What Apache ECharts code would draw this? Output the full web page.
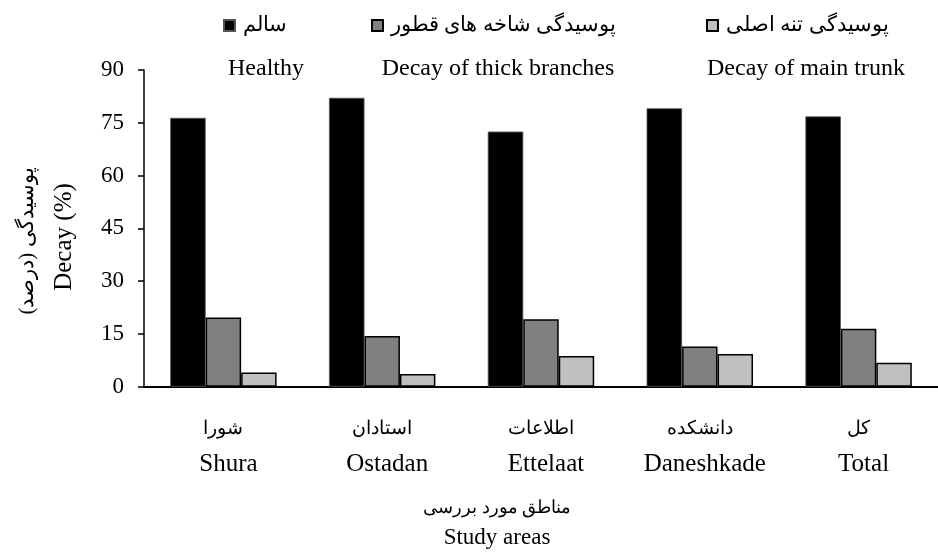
<!DOCTYPE html>
<html>
<head>
<meta charset="utf-8">
<script src="https://cdn.jsdelivr.net/npm/echarts@6/dist/echarts.min.js"></script>
<style>html,body{margin:0;padding:0;background:#fff}#c{width:938px;height:556px}</style>
</head>
<body>
<div id="c"></div>
<script>
var categoriesEn = ['Shura', 'Ostadan', 'Ettelaat', 'Daneshkade', 'Total'];
var categoriesFa = ['شورا', 'استادان', 'اطلاعات', 'دانشکده', 'کل'];
var seriesNamesFa = ['سالم', 'پوسیدگی شاخه های قطور', 'پوسیدگی تنه اصلی'];
var seriesNamesEn = ['Healthy', 'Decay of thick branches', 'Decay of main trunk'];
var healthy = [76.4, 82.1, 72.5, 79.1, 76.8];
var thickBranches = [19.7, 14.4, 19.2, 11.4, 16.5];
var mainTrunk = [4.0, 3.6, 8.7, 9.3, 6.8];
var yTicks = [0, 15, 30, 45, 60, 75, 90];

var FONT = '"Liberation Serif", "Times New Roman", serif';
var chart = echarts.init(document.getElementById('c'), null, {renderer: 'canvas'});
var colors = ['#000000', '#808080', '#c0c0c0'];
var values = [healthy, thickBranches, mainTrunk];
var legendLeft = [218, 366, 701];

var option = {
  animation: false,
  backgroundColor: '#ffffff',
  grid: {left: 144, top: 70, width: 803, height: 316.7, containLabel: false},
  legend: seriesNamesFa.map(function (n, i) {
    return {
      data: [n], left: legendLeft[i], top: 10, itemWidth: 11, itemHeight: 11,
      icon: 'rect',
      textStyle: {fontFamily: FONT, fontSize: 21, color: '#000', padding: [0, 0, 0, 3]}
    };
  }),
  xAxis: {
    type: 'category', data: categoriesEn,
    axisLine: {lineStyle: {color: '#000', width: 2}},
    axisTick: {show: false},
    axisLabel: {
      margin: 24, interval: 0,
      formatter: function (v, i) { return '{fa|' + categoriesFa[i] + '}\n{en|' + v + '}'; },
      rich: {
        fa: {fontFamily: FONT, fontSize: 19, color: '#000', lineHeight: 36},
        en: {fontFamily: FONT, fontSize: 25, color: '#000', lineHeight: 36, padding: [0, 0, 0, 10]}
      }
    }
  },
  yAxis: {
    type: 'value', min: yTicks[0], max: yTicks[yTicks.length - 1], interval: 15,
    axisLine: {show: true, lineStyle: {color: '#000', width: 1.5}},
    axisTick: {show: true, inside: false, length: 6, lineStyle: {color: '#000', width: 1.5}},
    splitLine: {show: false},
    axisLabel: {fontFamily: FONT, fontSize: 23, color: '#000', margin: 20}
  },
  series: seriesNamesFa.map(function (n, i) {
    return {
      name: n, type: 'bar', data: values[i],
      barGap: '0%', barCategoryGap: '33%',
      itemStyle: {color: colors[i], borderColor: i === 0 ? '#555' : '#000', borderWidth: i === 0 ? 0.8 : 1.5}
    };
  })
};

var g = [];
var enCenters = [266, 498, 806];
seriesNamesEn.forEach(function (t, i) {
  g.push({type: 'text', x: enCenters[i], y: 69,
    style: {text: t, fontFamily: FONT, fontSize: 24, fill: '#000', textAlign: 'center', textVerticalAlign: 'middle'}});
});
g.push({type: 'text', x: 497, y: 508, style: {text: 'مناطق مورد بررسی', fontFamily: FONT, fontSize: 18, fill: '#000', textAlign: 'center', textVerticalAlign: 'middle'}});
g.push({type: 'text', x: 497, y: 538, style: {text: 'Study areas', fontFamily: FONT, fontSize: 23, fill: '#000', textAlign: 'center', textVerticalAlign: 'middle'}});
g.push({type: 'text', x: 64, y: 237, rotation: Math.PI / 2, style: {text: 'Decay (%)', fontFamily: FONT, fontSize: 25, fill: '#000', textAlign: 'center', textVerticalAlign: 'middle'}});
g.push({type: 'text', x: 27, y: 241, rotation: Math.PI / 2, style: {text: 'پوسیدگی (درصد)', fontFamily: FONT, fontSize: 21, fill: '#000', textAlign: 'center', textVerticalAlign: 'middle'}});
option.graphic = g;

chart.setOption(option);
</script>
</body>
</html>
